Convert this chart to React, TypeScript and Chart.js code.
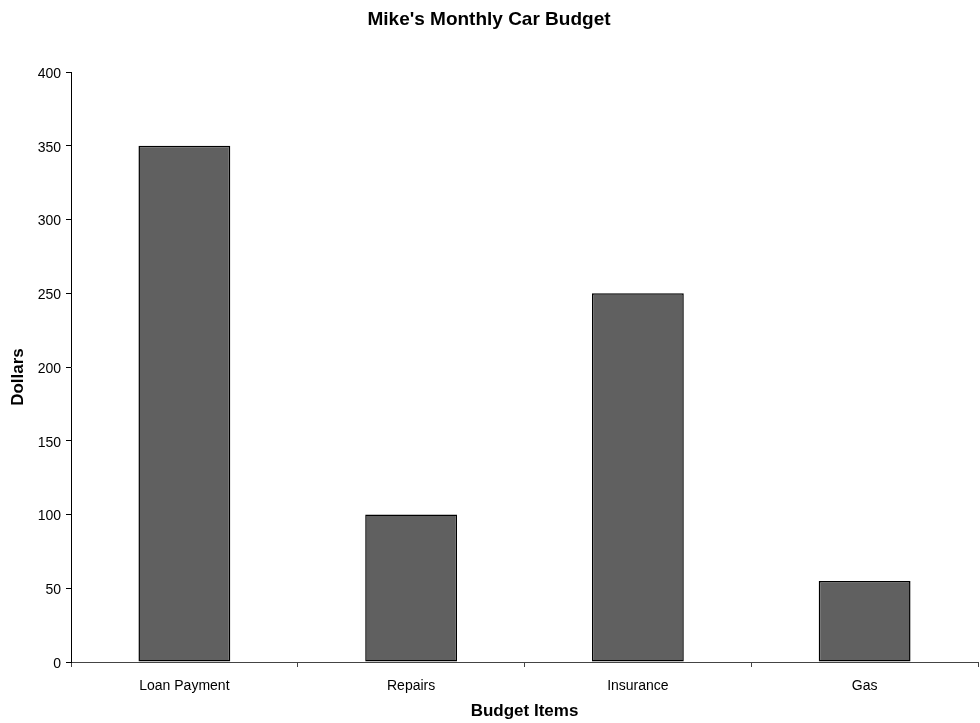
import React, { useEffect, useRef } from "react";
import { Chart, registerables } from "chart.js";

Chart.register(...registerables);

// Budget categories and monthly amounts (dollars)
const categories: string[] = ["Loan Payment", "Repairs", "Insurance", "Gas"];
const amounts: number[] = [350, 100, 250, 55];

// Y axis range and step
const yMin = 0;
const yMax = 400;
const yStep = 50;

const chartTitle = "Mike's Monthly Car Budget";
const xTitle = "Budget Items";
const yTitle = "Dollars";

const FONT = "'Liberation Sans', Arial, Helvetica, sans-serif";

// Draws the vertical axis title a little below the plot's midpoint
const yTitlePlugin = {
  id: "yTitleOffset",
  afterDraw(chart: any) {
    const { ctx, chartArea } = chart;
    const cy = (chartArea.top + chartArea.bottom) / 2 + 10;
    ctx.save();
    ctx.translate(18, cy);
    ctx.rotate(-Math.PI / 2);
    ctx.font = `bold 17px ${FONT}`;
    ctx.fillStyle = "#000000";
    ctx.textAlign = "center";
    ctx.textBaseline = "middle";
    ctx.fillText(yTitle, 0, 0);
    ctx.restore();
  },
};

export default function App() {
  const canvasRef = useRef<HTMLCanvasElement | null>(null);

  useEffect(() => {
    const canvas = canvasRef.current;
    if (!canvas) return;

    const chart = new Chart(canvas, {
      type: "bar",
      data: {
        labels: categories,
        datasets: [
          {
            data: amounts,
            backgroundColor: "#606060",
            borderColor: "#000000",
            borderWidth: 1.5,
            borderSkipped: false,
            categoryPercentage: 1,
            barPercentage: 0.405,
          },
        ],
      },
      options: {
        responsive: false,
        animation: false,
        devicePixelRatio: 1,
        layout: { padding: { left: 0, right: 2, top: 0, bottom: 0 } },
        plugins: {
          legend: { display: false },
          tooltip: { enabled: false },
          title: {
            display: true,
            text: chartTitle,
            color: "#000000",
            font: { family: FONT, size: 19, weight: "bold", lineHeight: 1.2 },
            padding: { top: 8.6, bottom: 40.6 },
          },
        },
        scales: {
          x: {
            type: "category",
            afterFit: (scale: any) => {
              scale.height = 61;
            },
            grid: {
              display: true,
              offset: true,
              drawOnChartArea: false,
              drawTicks: true,
              tickLength: 5,
              color: "#444444",
              lineWidth: 1,
            },
            border: { display: true, color: "#444444", width: 1 },
            ticks: {
              color: "#000000",
              padding: 11,
              maxRotation: 0,
              font: { family: FONT, size: 14 },
            },
            title: {
              display: true,
              text: xTitle,
              color: "#000000",
              font: { family: FONT, size: 17, weight: "bold", lineHeight: 1.2 },
              padding: { top: 0, bottom: 1 },
            },
          },
          y: {
            type: "linear",
            min: yMin,
            max: yMax,
            afterFit: (scale: any) => {
              scale.width = 71;
            },
            grid: {
              display: true,
              drawOnChartArea: false,
              drawTicks: true,
              tickLength: 5,
              color: "#000000",
              lineWidth: 1,
            },
            border: { display: true, color: "#000000", width: 1 },
            ticks: {
              stepSize: yStep,
              color: "#000000",
              padding: 5,
              labelOffset: 2,
              font: { family: FONT, size: 14 },
            },
            title: { display: false },
          },
        },
      },
      plugins: [yTitlePlugin],
    });

    return () => {
      chart.destroy();
    };
  }, []);

  return (
    <div
      style={{
        position: "absolute",
        left: 0,
        top: 0,
        width: 980,
        height: 723,
        background: "#ffffff",
      }}
    >
      <canvas ref={canvasRef} width={980} height={723} />
    </div>
  );
}
